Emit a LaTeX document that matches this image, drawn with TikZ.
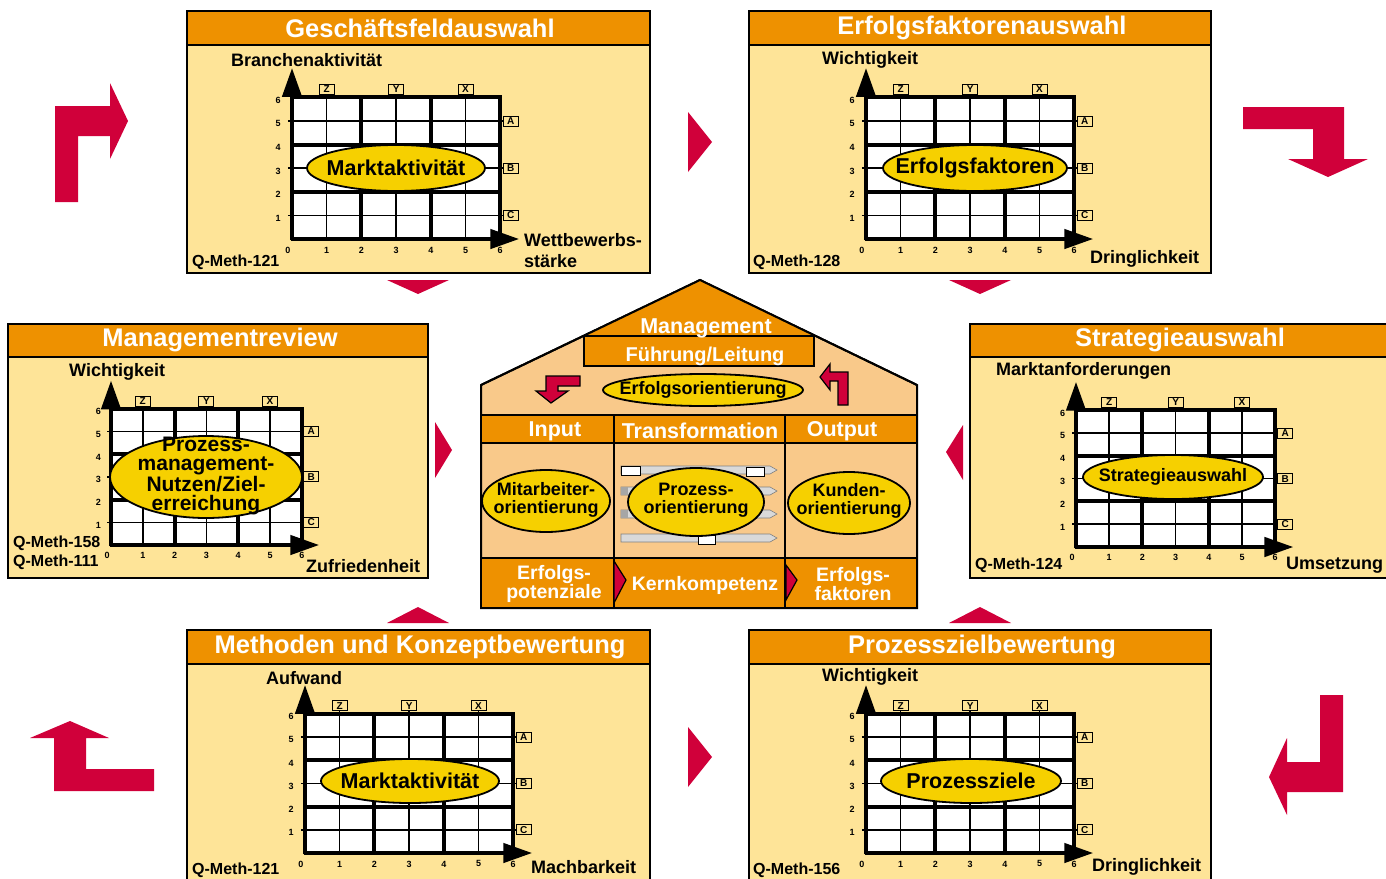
\documentclass[tikz,border=0pt]{standalone}
\usepackage{fontspec}
\setmainfont{Liberation Sans}
\usepackage{tikz}
\usetikzlibrary{arrows.meta}
\definecolor{kopforange}{RGB}{238,145,0}
\definecolor{feldgelb}{RGB}{254,228,152}
\definecolor{hauspfirsich}{RGB}{249,201,138}
\definecolor{ovalgelb}{RGB}{246,208,0}
\definecolor{pfeilrot}{RGB}{208,0,58}
\tikzset{
  Feld/.style={draw=black,line width=1.5pt,fill=feldgelb}, % Feldkoerper
  Kopf/.style={draw=black,line width=1.5pt,fill=kopforange}, % Kopfleiste
  Titel/.style={text=white,font=\fontsize{25.5}{27}\selectfont\bfseries,inner sep=0pt},
  Beschriftung/.style={font=\fontsize{18}{21}\selectfont\bfseries,anchor=west,inner sep=0pt,align=left},
  Kennung/.style={font=\fontsize{16}{18.5}\selectfont\bfseries,anchor=west,inner sep=0pt,align=left},
  duenn/.style={line width=1.5pt},
  dick/.style={line width=4pt},
  Achse/.style={line width=4.5pt,-{Triangle[length=29pt,width=19pt]}},
  Zahl/.style={font=\fontsize{9}{10}\selectfont\bfseries,inner sep=0pt},
  Kasten/.style={draw,fill=feldgelb,line width=1pt,font=\fontsize{10}{10}\selectfont\bfseries,inner sep=0.5pt,minimum width=15pt,minimum height=10pt},
  Oval/.style={fill=ovalgelb,draw=black,line width=1.8pt},
  Ovaltext/.style={font=\fontsize{21.5}{20}\selectfont\bfseries,align=center,inner sep=0pt},
  Pfeil/.style={fill=pfeilrot}, % rote Pfeile
  Haus/.style={draw=black,line width=2pt},
  Haustext/.style={text=white,font=\fontsize{20}{18}\selectfont\bfseries,align=center,inner sep=0pt}
}
% Raster: Ursprung x, Ursprung y, Zellbreite, Zellhoehe
\newcommand{\Raster}[4]{%
  \begin{scope}[shift={(#1pt,-#2pt)},x=#3pt,y=#4pt]
    \fill[white] (0,0) rectangle (6,6);
    \foreach \i in {1,3,5} {
      \draw[duenn] (\i,0) -- (\i,6.3);
      \draw[duenn] (-0.12,\i) -- (6.12,\i);
    }
    \foreach \i in {2,4} {
      \draw[dick] (\i,0) -- (\i,6);
      \draw[dick] (0,\i) -- (6,\i);
    }
    \draw[dick] (0,6) -- (6,6) -- (6,0);
    \draw[Achse] (0,-0.06) -- (0,7.25);
    \draw[Achse] (-0.04,0) -- (6.55,0);
    \node[Zahl] (x0) at (-0.12,-0.47) {0};
    \foreach \i in {1,...,6} {
      \node[Zahl] (x\i) at (\i,-0.47) {\i};
      \node[Zahl] (y\i) at (-0.4,\i-0.12) {\i};
    }
    \foreach \b/\i in {Z/1,Y/3,X/5} \node[Kasten] (k\b) at (\i,6.34) {\b};
    \foreach \b/\i in {A/5,B/3,C/1} \node[Kasten] (k\b) at (6.3,\i) {\b};
  \end{scope}}

\begin{document}
\begin{tikzpicture}[x=1pt,y=-1pt,>=latex]
\useasboundingbox (0,0) rectangle (1386,878);
\clip (0,0) rectangle (1386,878);

%Geschaeftsfeldauswahl
\draw[Feld] (187,11) rectangle (650,273);
\draw[Kopf] (187,11) rectangle (650,45);
\node[Titel] (t1) at (420,28) {Geschäftsfeldauswahl};
\Raster{292}{239}{34.7}{23.6}
\draw[Oval] (396,168) ellipse [x radius=89pt,y radius=23pt];
\node[Ovaltext] (o1) at (396,168) {Marktaktivität};
\node[Beschriftung] (a1) at (231,60) {Branchenaktivität};
\node[Beschriftung] (b1) at (524,251) {Wettbewerbs-\\stärke};
\node[Kennung] (q1) at (192,262) {Q-Meth-121};

%Erfolgsfaktorenauswahl
\draw[Feld] (749,11) rectangle (1211,273);
\draw[Kopf] (749,11) rectangle (1211,45);
\node[Titel] (t2) at (982,28) {Erfolgsfaktorenauswahl};
\Raster{866}{239}{34.7}{23.6}
\draw[Oval] (975,168) ellipse [x radius=92pt,y radius=23pt];
\node[Ovaltext] (o2) at (975,168) {Erfolgsfaktoren};
\node[Beschriftung] (a2) at (822,60) {Wichtigkeit};
\node[Beschriftung] (b2) at (1090,259) {Dringlichkeit};
\node[Kennung] (q2) at (753,262) {Q-Meth-128};

%Managementreview
\draw[Feld] (8,324) rectangle (428,578);
\draw[Kopf] (8,324) rectangle (428,357);
\node[Titel] (t3) at (220,340) {Managementreview};
\Raster{111}{545}{31.8}{22.7}
\draw[Oval] (206,477) ellipse [x radius=96pt,y radius=41pt];
\node[Ovaltext,font=\fontsize{21}{19.5}\selectfont\bfseries] (o3) at (206,476) {Prozess-\\management-\\Nutzen/Ziel-\\erreichung};
\node[Beschriftung] (a3) at (69,372) {Wichtigkeit};
\node[Beschriftung] (b3) at (306,566) {Zufriedenheit};
\node[Kennung] (q3) at (13,553) {Q-Meth-158\\Q-Meth-111};

%Strategieauswahl
\draw[Feld] (970,324) rectangle (1395,578);
\draw[Kopf] (970,324) rectangle (1395,357);
\node[Titel] (t4) at (1180,340) {Strategieauswahl};
\Raster{1076}{547}{33.2}{22.8}
\draw[Oval] (1173,477) ellipse [x radius=90pt,y radius=22pt];
\node[Ovaltext,font=\fontsize{18}{20}\selectfont\bfseries] (o4) at (1173,477) {Strategieauswahl};
\node[Beschriftung] (a4) at (996,371) {Marktanforderungen};
\node[Beschriftung] (b4) at (1286,565) {Umsetzung};
\node[Kennung] (q4) at (975,565) {Q-Meth-124};

%Methoden und Konzeptbewertung
\draw[Feld] (187,630) rectangle (650,895);
\draw[Kopf] (187,630) rectangle (650,664);
\node[Titel] (t5) at (420,647) {Methoden und Konzeptbewertung};
\Raster{305}{853}{34.7}{23.2}
\draw[Oval] (410,781) ellipse [x radius=89pt,y radius=22pt];
\node[Ovaltext] (o5) at (410,781) {Marktaktivität};
\node[Beschriftung] (a5) at (266,678) {Aufwand};
\node[Beschriftung] (b5) at (531,867) {Machbarkeit};
\node[Kennung] (q5) at (192,870) {Q-Meth-121};

%Prozesszielbewertung
\draw[Feld] (749,630) rectangle (1211,895);
\draw[Kopf] (749,630) rectangle (1211,664);
\node[Titel] (t6) at (982,647) {Prozesszielbewertung};
\Raster{866}{853}{34.7}{23.2}
\draw[Oval] (971,781) ellipse [x radius=90pt,y radius=22pt];
\node[Ovaltext] (o6) at (971,781) {Prozessziele};
\node[Beschriftung] (a6) at (822,677) {Wichtigkeit};
\node[Beschriftung] (b6) at (1092,867) {Dringlichkeit};
\node[Kennung] (q6) at (753,870) {Q-Meth-156};

%Haus
\draw[Haus,fill=hauspfirsich] (481,385) -- (700,280) -- (917,385) -- (917,608) -- (481,608) -- cycle;
\fill[kopforange] (700,280) -- (583,336) -- (816,336) -- cycle;
\draw[Haus] (481,385) -- (700,280) -- (917,385);
\draw[Haus,fill=kopforange] (584,336) rectangle (814,366);
\node[Haustext,font=\fontsize{21.5}{22}\selectfont\bfseries] (mgmt) at (706,328) {Management};
\node[Haustext] (fuehr) at (705,356) {Führung/Leitung};
\draw[Oval] (703,390) ellipse [x radius=100pt,y radius=16pt];
\node[Ovaltext,font=\fontsize{18}{20}\selectfont\bfseries] (erfo) at (703,390) {Erfolgsorientierung};
\draw[Haus,line width=1.2pt,Pfeil] (580,376) -- (580,386) -- (558,386) -- (558,391) -- (568,391) -- (551,403) -- (536,391) -- (546,391) -- (546,376) -- cycle;
\draw[Haus,line width=1.2pt,Pfeil] (848,405) -- (848,372) -- (830,372) -- (830,364) -- (820,377) -- (830,390) -- (830,381) -- (838,381) -- (838,405) -- cycle;

\draw[Haus,fill=kopforange] (481,415) rectangle (917,443);
\draw[Haus,fill=kopforange] (481,558) rectangle (917,608);
\draw[Haus] (614,415) -- (614,608);
\draw[Haus] (785,415) -- (785,608);
\node[Haustext,font=\fontsize{21.5}{22}\selectfont\bfseries] (inp) at (555,431) {Input};
\node[Haustext,font=\fontsize{21.5}{22}\selectfont\bfseries] (trans) at (700,431) {Transformation};
\node[Haustext,font=\fontsize{21.5}{22}\selectfont\bfseries] (outp) at (842,431) {Output};

%Prozessbalken
\foreach \y in {470,491,514,538}
  \draw[gray,fill=gray!30,line width=.6pt] (621,\y-4) -- (770,\y-4) -- (777,\y) -- (770,\y+4) -- (621,\y+4) -- cycle;
\draw[fill=white,line width=.5pt] (621,466) rectangle (640,475);
\draw[fill=white,line width=.5pt] (746,467) rectangle (764,476);
\draw[fill=white,line width=.5pt] (698,535) rectangle (715,544);
\fill[gray!70] (621,487) rectangle (628,495);
\fill[gray!70] (621,510) rectangle (628,518);

\draw[Oval] (546,501) ellipse [x radius=64pt,y radius=31pt];
\node[Ovaltext,font=\fontsize{18}{18}\selectfont\bfseries] (mita) at (546,500) {Mitarbeiter-\\orientierung};
\draw[Oval] (696,502) ellipse [x radius=68pt,y radius=34pt];
\node[Ovaltext,font=\fontsize{18}{18}\selectfont\bfseries] (proz) at (696,500) {Prozess-\\orientierung};
\draw[Oval] (849,503) ellipse [x radius=61pt,y radius=31pt];
\node[Ovaltext,font=\fontsize{18}{18}\selectfont\bfseries] (kund) at (849,501) {Kunden-\\orientierung};

\draw[Haus,line width=1.2pt,Pfeil] (614,561) -- (626,580) -- (614,603) -- cycle;
\draw[Haus,line width=1.2pt,Pfeil] (786,565) -- (797,580) -- (786,600) -- cycle;
\node[Haustext,font=\fontsize{19.5}{18}\selectfont\bfseries] (epot) at (554,584) {Erfolgs-\\potenziale};
\node[Haustext,font=\fontsize{19.5}{18}\selectfont\bfseries] (kern) at (705,585) {Kernkompetenz};
\node[Haustext,font=\fontsize{19.5}{18}\selectfont\bfseries] (efak) at (853,584) {Erfolgs-\\faktoren};

%Pfeile
\fill[Pfeil] (55,202) -- (55,106) -- (110,106) -- (110,83) -- (128,121) -- (110,159) -- (110,136) -- (78,136) -- (78,202) -- cycle;
\fill[Pfeil] (1243,107) -- (1344,107) -- (1344,159) -- (1368,159) -- (1328,177) -- (1288,159) -- (1313,159) -- (1313,129) -- (1243,129) -- cycle;
\fill[Pfeil] (1343,695) -- (1343,792) -- (1287,792) -- (1287,815) -- (1269,777) -- (1287,738) -- (1287,762) -- (1320,762) -- (1320,695) -- cycle;
\fill[Pfeil] (154,769) -- (154,791) -- (54,791) -- (54,738) -- (30,738) -- (70,721) -- (109,738) -- (86,738) -- (86,769) -- cycle;

\fill[Pfeil] (387,280) -- (449,280) -- (418,294) -- cycle;
\fill[Pfeil] (949,280) -- (1011,280) -- (980,294) -- cycle;
\fill[Pfeil] (688,112) -- (712,142) -- (688,172) -- cycle;
\fill[Pfeil] (435,422) -- (452,450) -- (435,478) -- cycle;
\fill[Pfeil] (963,425) -- (946,452) -- (963,480) -- cycle;
\fill[Pfeil] (387,623) -- (418,607) -- (449,623) -- cycle;
\fill[Pfeil] (949,623) -- (980,607) -- (1011,623) -- cycle;
\fill[Pfeil] (688,727) -- (712,757) -- (688,787) -- cycle;
\end{tikzpicture}
\end{document}
